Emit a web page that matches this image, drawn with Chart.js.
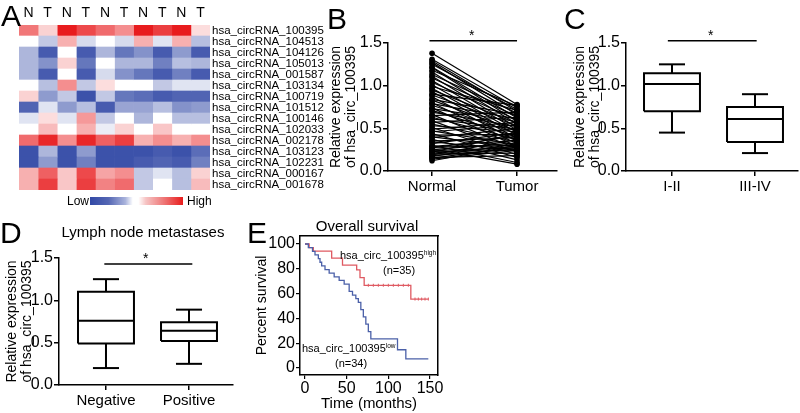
<!DOCTYPE html>
<html>
<head>
<meta charset="utf-8">
<script src="https://cdn.jsdelivr.net/npm/chart.js@4.4.1/dist/chart.umd.min.js"></script>
<style>
  html, body { margin: 0; padding: 0; background: #fff; }
  #fig { position: relative; width: 800px; height: 413px; overflow: hidden;
         font-family: "Liberation Sans", Arial, sans-serif; color: #000; }
  #fig canvas { position: absolute; }
  .t { position: absolute; white-space: nowrap; line-height: 1; }
  .panel { font-size: 30px; }
  .sup { font-size: 6.5px; vertical-align: 4px; }
</style>
</head>
<body>
<div id="fig">
  <canvas id="chartA" width="345" height="200" style="left:0;top:0"></canvas>
  <canvas id="chartB" width="240" height="200" style="left:326px;top:0"></canvas>
  <canvas id="chartC" width="234" height="200" style="left:566px;top:0"></canvas>
  <canvas id="chartD" width="245" height="213" style="left:0;top:200px"></canvas>
  <canvas id="chartE" width="195" height="213" style="left:253px;top:200px"></canvas>

  <div class="t panel" style="left:1px;top:1px">A</div>
  <div class="t panel" style="left:327px;top:4px">B</div>
  <div class="t panel" style="left:564px;top:4px">C</div>
  <div class="t panel" style="left:0;top:218px">D</div>
  <div class="t panel" style="left:247px;top:218px">E</div>

  <!-- heatmap colour key -->
  <div class="t" style="left:67px;top:195px;font-size:12px">Low</div>
  <div style="position:absolute;left:90px;top:197px;width:93px;height:8px;
       background:linear-gradient(to right,#3249a6 0%,#5567b4 20%,#a9b3dc 38%,#fff 46%,#fff 52%,#f6c4c4 60%,#ee7474 80%,#e81c1c 100%)"></div>
  <div class="t" style="left:187px;top:195px;font-size:12px">High</div>

  <!-- significance stars -->
  <div class="t" style="left:469px;top:28px;font-size:14px">*</div>
  <div class="t" style="left:708px;top:28px;font-size:14px">*</div>
  <div class="t" style="left:143px;top:251px;font-size:14px">*</div>

  <div class="t" style="left:43px;top:224px;width:200px;text-align:center;font-size:15px">Lymph node metastases</div>
  <div class="t" style="left:297px;top:218px;width:140px;text-align:center;font-size:15px">Overall survival</div>

  <div class="t" style="left:340px;top:250px;font-size:11px">hsa_circ_100395<span class="sup">high</span></div>
  <div class="t" style="left:383px;top:265px;font-size:11px">(n=35)</div>
  <div class="t" style="left:302px;top:343px;font-size:11px">hsa_circ_100395<span class="sup">low</span></div>
  <div class="t" style="left:335px;top:358px;font-size:11px">(n=34)</div>
</div>

<script>
// ---- Panel A: heatmap ----
const sampleLabels = ['N', 'T', 'N', 'T', 'N', 'T', 'N', 'T', 'N', 'T'];
const geneNames = [
  'hsa_circRNA_100395', 'hsa_circRNA_104513', 'hsa_circRNA_104126', 'hsa_circRNA_105013',
  'hsa_circRNA_001587', 'hsa_circRNA_103134', 'hsa_circRNA_100719', 'hsa_circRNA_101512',
  'hsa_circRNA_100146', 'hsa_circRNA_102033', 'hsa_circRNA_002178', 'hsa_circRNA_103123',
  'hsa_circRNA_102231', 'hsa_circRNA_000167', 'hsa_circRNA_001678'
];
// relative level per gene (row) and sample (column), -1 = low, 1 = high
const heatValues = [
  [0.6, 0.2, 1.0, 0.8, 0.65, 0.5, 1.0, 0.85, 1.0, 0.15],
  [0, -0.3, 0.35, -0.2, 0, -0.2, 0.35, -0.15, 0.35, -0.35],
  [-0.4, -0.9, 0, -0.9, -0.4, -0.75, -0.6, -0.9, -0.55, -0.9],
  [-0.4, -0.6, 0.2, -0.75, 0, -0.4, -0.4, -0.7, -0.35, -0.4],
  [-0.4, -0.9, 0, -0.9, -0.2, -0.6, -0.75, -0.9, -0.7, -0.9],
  [0, -0.35, 0.5, -0.3, 0.15, 0, 0, -0.3, -0.15, -0.15],
  [0.2, -0.55, -0.3, -0.95, -0.3, -0.75, -0.8, -0.9, -0.85, -0.85],
  [-0.85, -0.15, -0.55, -0.35, -0.9, -0.5, -0.5, -0.35, -0.6, -0.55],
  [-0.15, 0.15, -0.15, 0.45, -0.3, 0, -0.4, 0, -0.35, -0.35],
  [0, 0.3, 0, 0.35, -0.1, 0.2, 0, 0.25, 0, 0],
  [0.65, 0.95, 0.5, 0.95, 0.7, 0.85, 0.35, 0.5, 0.35, 0.5],
  [-0.95, -0.4, -0.95, -0.55, -0.95, -0.95, -0.95, -0.9, -0.95, -0.8],
  [-0.95, -0.55, -0.95, -0.7, -0.95, -0.95, -0.9, -0.85, -0.9, -0.7],
  [0.35, 0.7, 0.25, 0.8, 0.4, 0.5, -0.3, -0.15, -0.35, 0.2],
  [0.35, 0.85, 0.25, 0.85, 0.55, 0.65, -0.3, 0, -0.35, 0.3]
];

// ---- Panel B: paired expression ----
const pairLabels = ['Normal', 'Tumor'];
const normalExpr = [1.38, 1.31, 1.29, 1.27, 1.25, 1.22, 1.21, 1.18, 1.16, 1.13,
  1.11, 1.09, 1.06, 1.04, 1.01, 0.99, 0.97, 0.95, 0.93, 0.90,
  0.89, 0.87, 0.84, 0.83, 0.80, 0.79, 0.77, 0.74, 0.73, 0.71,
  0.69, 0.66, 0.65, 0.63, 0.61, 0.59, 0.57, 0.55, 0.53, 0.51,
  0.49, 0.47, 0.46, 0.44, 0.42, 0.40, 0.39, 0.37, 0.35, 0.34,
  0.32, 0.30, 0.29, 0.28, 0.27, 0.26, 0.25, 0.24, 0.23, 0.22,
  0.21, 0.20, 0.19, 0.18, 0.17, 0.16, 0.15, 0.14, 0.12];
const tumorExpr = [0.78, 0.74, 0.70, 0.66, 0.72, 0.62, 0.58, 0.76, 0.55, 0.68,
  0.51, 0.64, 0.48, 0.60, 0.45, 0.71, 0.42, 0.56, 0.38, 0.77,
  0.53, 0.35, 0.66, 0.47, 0.32, 0.61, 0.44, 0.29, 0.58, 0.40,
  0.52, 0.26, 0.69, 0.37, 0.49, 0.22, 0.63, 0.34, 0.46, 0.19,
  0.57, 0.31, 0.54, 0.16, 0.43, 0.28, 0.50, 0.13, 0.39, 0.25,
  0.45, 0.10, 0.36, 0.30, 0.41, 0.08, 0.33, 0.27, 0.24, 0.44,
  0.29, 0.21, 0.37, 0.26, 0.32, 0.18, 0.28, 0.24, 0.30];

// ---- Panels C / D: box plots [min, q1, median, q3, max] ----
const stageLabels = ['I-II', 'III-IV'];
const stageStats = [[0.45, 0.70, 1.02, 1.145, 1.25], [0.21, 0.34, 0.61, 0.75, 0.90]];
const lymphLabels = ['Negative', 'Positive'];
const lymphStats = [[0.20, 0.49, 0.76, 1.10, 1.25], [0.25, 0.52, 0.64, 0.74, 0.89]];

const exprTicks = [0, 0.5, 1.0, 1.5];
const exprTitle = ['Relative expression', 'of hsa_circ_100395'];

// ---- Panel E: Kaplan-Meier ----
const highTimes = [0, 5, 10, 32, 45, 62, 66, 71, 127, 148];
const highSurv = [100, 97.1, 94.3, 88.6, 82.9, 79.1, 72.8, 66.7, 55.6, 55.6];
const highCensorTimes = [76, 82, 88, 94, 100, 106, 112, 118, 124, 132, 136, 140, 144, 148];
const highCensorSurv = [66.7, 66.7, 66.7, 66.7, 66.7, 66.7, 66.7, 66.7, 66.7, 55.6, 55.6, 55.6, 55.6, 55.6];
const lowTimes = [0, 4, 9, 12, 16, 18, 20, 24, 29, 35, 41, 47, 53, 57, 61, 64, 67, 70, 73, 76, 79, 111, 121, 148];
const lowSurv = [100, 97.1, 94.1, 91.2, 88.2, 85.3, 82.4, 79.4, 76.5, 73.5, 70.6, 67.6, 61.8, 58.8, 55.9, 52.9, 47.1, 41.2, 35.3, 29.4, 23.5, 14.7, 7.4, 7.4];
const timeTicks = [0, 50, 100, 150];
const survTicks = [0, 20, 40, 60, 80, 100];

Chart.defaults.font.family = '"Liberation Sans", Arial, sans-serif';
Chart.defaults.color = '#000';
Chart.defaults.animation = false;
Chart.defaults.responsive = false;
Chart.defaults.plugins.legend.display = false;
Chart.defaults.plugins.tooltip.enabled = false;

function heatColor(v) {
  const blue = [50, 73, 166], red = [232, 28, 30];
  const c = v < 0 ? blue : red;
  const t = Math.min(Math.abs(v), 1);
  const mix = k => Math.round(255 + (c[k] - 255) * t);
  return 'rgb(' + mix(0) + ',' + mix(1) + ',' + mix(2) + ')';
}

function segment(points, width) {
  return {
    data: points.map(p => ({ x: p[0], y: p[1] })),
    showLine: true, pointRadius: 0, borderColor: '#000',
    borderWidth: width, borderJoinStyle: 'miter', clip: false
  };
}

function boxDatasets(stats, hw, cw) {
  const sets = [];
  stats.forEach((s, i) => {
    const [lo, q1, med, q3, hi] = s;
    sets.push(segment([[i - hw, q1], [i + hw, q1], [i + hw, q3], [i - hw, q3], [i - hw, q1]], 2));
    sets.push(segment([[i - hw, med], [i + hw, med]], 2));
    sets.push(segment([[i, q1], [i, lo]], 2));
    sets.push(segment([[i - cw, lo], [i + cw, lo]], 2));
    sets.push(segment([[i, q3], [i, hi]], 2));
    sets.push(segment([[i - cw, hi], [i + cw, hi]], 2));
  });
  return sets;
}

function exprYScale(axisWidth, titlePad) {
  return {
    min: 0, max: 1.5,
    afterBuildTicks: s => { s.ticks = exprTicks.map(v => ({ value: v })); },
    ticks: { callback: v => v.toFixed(1), font: { size: 16 }, padding: 1 },
    grid: { drawOnChartArea: false, tickLength: 5, color: '#000', lineWidth: 1.5 },
    border: { color: '#000', width: 1.5 },
    title: { display: true, text: exprTitle, font: { size: 14, lineHeight: 1.05 }, padding: { top: titlePad, bottom: 0 } },
    afterFit: s => { s.width = axisWidth; }
  };
}

function groupXScale(labels, min, max, axisHeight) {
  return {
    type: 'linear', min: min, max: max,
    afterBuildTicks: s => { s.ticks = labels.map((_, i) => ({ value: i })); },
    ticks: { callback: (v, i) => labels[i], font: { size: 15 }, padding: 2, maxRotation: 0 },
    grid: { drawOnChartArea: false, tickLength: 5, color: '#000', lineWidth: 1.5 },
    border: { color: '#000', width: 1.5 },
    afterFit: s => { s.height = axisHeight; }
  };
}

// A
new Chart(document.getElementById('chartA'), {
  type: 'bar',
  data: {
    labels: geneNames,
    datasets: sampleLabels.map((s, col) => ({
      label: s,
      data: geneNames.map(() => 1),
      backgroundColor: heatValues.map(row => heatColor(row[col])),
      borderWidth: 0,
      barPercentage: 1,
      categoryPercentage: 1
    }))
  },
  options: {
    indexAxis: 'y',
    layout: { padding: { left: 19, top: 0, right: 0, bottom: 10 } },
    scales: {
      x: {
        position: 'top', stacked: true, min: 0, max: 10,
        afterBuildTicks: s => { s.ticks = sampleLabels.map((_, i) => ({ value: i + 0.5 })); },
        ticks: { callback: (v, i) => sampleLabels[i], font: { size: 14 }, padding: 3, maxRotation: 0, autoSkip: false },
        grid: { display: false, drawTicks: false },
        border: { display: false },
        afterFit: s => { s.height = 25; }
      },
      y: {
        position: 'right', stacked: true,
        ticks: { autoSkip: false, font: { size: 11.5 }, padding: 2 },
        grid: { display: false, drawTicks: false },
        border: { display: false },
        afterFit: s => { s.width = 135; }
      }
    }
  }
});

// B
const pairSets = normalExpr.map((n, i) => ({
  data: [{ x: 0, y: n }, { x: 1, y: tumorExpr[i] }],
  showLine: true, borderColor: '#000', borderWidth: 1.2,
  pointRadius: 2.8, pointBackgroundColor: '#000', pointBorderWidth: 0
}));
pairSets.push(segment([[-0.03, 1.525], [1.0, 1.525]], 1.5));
new Chart(document.getElementById('chartB'), {
  type: 'scatter',
  data: { datasets: pairSets },
  options: {
    layout: { padding: { left: 0, top: 43, right: 9, bottom: 0 } },
    scales: { x: groupXScale(pairLabels, -0.518, 1.47, 29), y: exprYScale(62, 3) }
  }
});

// C
const stageSets = boxDatasets(stageStats, 0.337, 0.157);
stageSets.push(segment([[-0.05, 1.525], [1.02, 1.525]], 1.5));
new Chart(document.getElementById('chartC'), {
  type: 'scatter',
  data: { datasets: stageSets },
  options: {
    layout: { padding: { left: 0, top: 43, right: 2, bottom: 0 } },
    scales: { x: groupXScale(stageLabels, -0.554, 1.518, 29), y: exprYScale(60, 6.6) }
  }
});

// D
const lymphSets = boxDatasets(lymphStats, 0.337, 0.157);
lymphSets.push(segment([[-0.02, 1.43], [1.04, 1.43]], 1.5));
new Chart(document.getElementById('chartD'), {
  type: 'scatter',
  data: { datasets: lymphSets },
  options: {
    layout: { padding: { left: 0, top: 58, right: 12, bottom: 0 } },
    scales: { x: groupXScale(lymphLabels, -0.566, 1.53, 28), y: exprYScale(59, 4.6) }
  }
});

// E
const redKM = '#df5a62', blueKM = '#4b60a8';
new Chart(document.getElementById('chartE'), {
  type: 'scatter',
  data: {
    datasets: [
      { data: lowTimes.map((t, i) => ({ x: t, y: lowSurv[i] })), showLine: true, stepped: true,
        borderColor: blueKM, borderWidth: 1.3, pointRadius: 0 },
      { data: highTimes.map((t, i) => ({ x: t, y: highSurv[i] })), showLine: true, stepped: true,
        borderColor: redKM, borderWidth: 1.3, pointRadius: 0 },
      { data: highCensorTimes.map((t, i) => ({ x: t, y: highCensorSurv[i] })), showLine: false,
        pointStyle: 'line', rotation: 90, pointRadius: 1.5, borderColor: redKM, pointBorderWidth: 1 }
    ]
  },
  options: {
    layout: { padding: { left: 0, top: 36, right: 10, bottom: 0 } },
    scales: {
      x: {
        type: 'linear', min: -6, max: 159.6,
        afterBuildTicks: s => { s.ticks = timeTicks.map(v => ({ value: v })); },
        ticks: { font: { size: 16 }, padding: 0, maxRotation: 0 },
        grid: { drawOnChartArea: false, tickLength: 4, color: '#000', lineWidth: 1.2 },
        border: { color: '#000', width: 1.5 },
        title: { display: true, text: 'Time (months)', font: { size: 15 }, padding: { top: 0, bottom: 0 } },
        afterFit: s => { s.height = 38; }
      },
      y: {
        min: -5.65, max: 106.45,
        afterBuildTicks: s => { s.ticks = survTicks.map(v => ({ value: v })); },
        ticks: { font: { size: 16 }, padding: 1 },
        grid: { drawOnChartArea: false, tickLength: 4, color: '#000', lineWidth: 1.2 },
        border: { color: '#000', width: 1.5 },
        title: { display: true, text: 'Percent survival', font: { size: 14 }, padding: { top: 0.6, bottom: 0 } },
        afterFit: s => { s.width = 47; }
      },
      xTop: {
        type: 'linear', position: 'top',
        ticks: { display: false }, grid: { display: false, drawTicks: false },
        border: { color: '#000', width: 1.5 },
        afterFit: s => { s.height = 0; }
      },
      yRight: {
        type: 'linear', position: 'right',
        ticks: { display: false }, grid: { display: false, drawTicks: false },
        border: { color: '#000', width: 1.5 },
        afterFit: s => { s.width = 0; }
      }
    }
  }
});
</script>
</body>
</html>
